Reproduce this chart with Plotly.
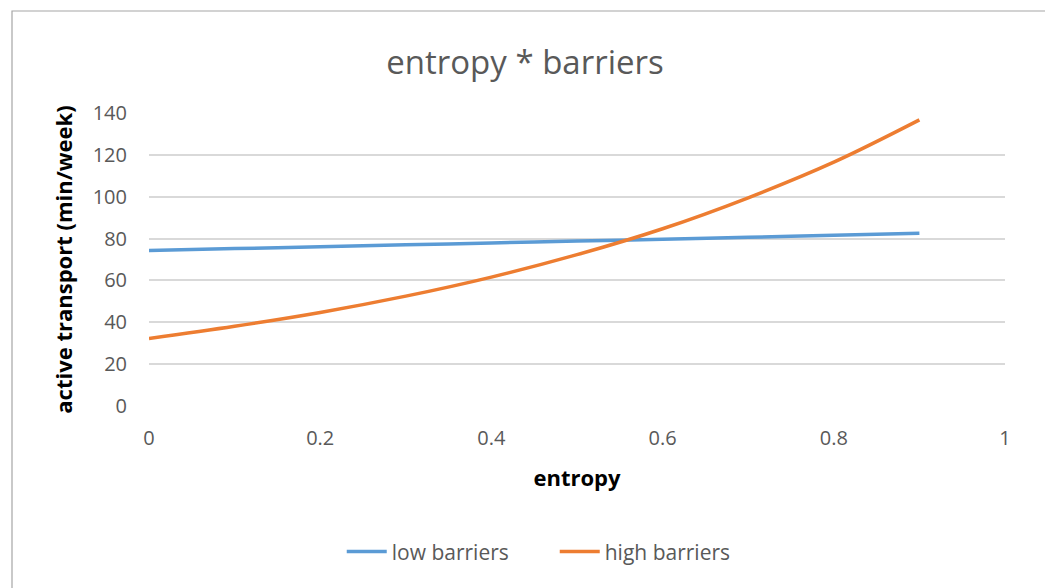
import plotly.graph_objects as go

# entropy values at which the interaction model was evaluated
entropy = [0.0, 0.1, 0.2, 0.3, 0.4, 0.5, 0.6, 0.7, 0.8, 0.9]

# predicted active transport (min/week) for each barrier level
low_barriers = [74.3, 75.2, 76.1, 77.0, 77.9, 78.8, 79.7, 80.6, 81.6, 82.5]
high_barriers = [32.3, 38.1, 44.7, 52.5, 61.6, 72.3, 84.7, 99.5, 116.5, 136.7]

x_ticks = [0, 0.2, 0.4, 0.6, 0.8, 1]
x_tick_text = ["0", "0.2", "0.4", "0.6", "0.8", "1"]
y_ticks = [0, 20, 40, 60, 80, 100, 120, 140]

FONT = "Open Sans"
GREY = "#595959"

fig = go.Figure()
fig.add_trace(go.Scatter(
    x=entropy, y=low_barriers, name="low barriers", mode="lines",
    line=dict(color="#5B9BD5", width=3.5, shape="spline"),
))
fig.add_trace(go.Scatter(
    x=entropy, y=high_barriers, name="high barriers", mode="lines",
    line=dict(color="#ED7D31", width=3.5, shape="spline"),
))

fig.update_layout(
    width=1045, height=588,
    margin=dict(l=149, r=40, t=113, b=182),
    paper_bgcolor="white", plot_bgcolor="white",
    font=dict(family=FONT, color=GREY),
    title=dict(
        text="entropy * barriers", x=0.5024, xref="container", xanchor="center",
        y=1 - 62 / 588, yref="container", yanchor="middle",
        font=dict(size=33, color=GREY, family=FONT),
    ),
    xaxis=dict(
        range=[0, 1], tickvals=x_ticks, ticktext=x_tick_text,
        showgrid=False, zeroline=False, showline=False,
        tickfont=dict(size=20, color=GREY), ticklabelstandoff=18,
        title=dict(text="<b>entropy</b>", font=dict(size=22, color="black"), standoff=20),
    ),
    yaxis=dict(
        range=[0, 140], tickvals=y_ticks,
        showgrid=True, gridcolor="#D9D9D9", gridwidth=1.5,
        zeroline=False, showline=False,
        tickfont=dict(size=20, color=GREY), ticklabelstandoff=21,
        title=dict(text="<b>active transport (min/week)</b>",
                   font=dict(size=22, color="black"), standoff=13),
    ),
    legend=dict(
        orientation="h", x=0.474, xanchor="center", y=-0.498, yanchor="middle",
        font=dict(size=21, color=GREY), itemwidth=40, entrywidth=158,
        bgcolor="rgba(0,0,0,0)",
    ),
    shapes=[dict(
        type="rect", xref="paper", yref="paper",
        x0=(12 - 149) / 856, x1=(1060 - 149) / 856,
        y0=(406 - 600) / 293, y1=1 + (113 - 11) / 293,
        line=dict(color="#A6A6A6", width=1.2), fillcolor="rgba(0,0,0,0)",
        layer="below",
    )],
)

fig.write_html("out.html")
